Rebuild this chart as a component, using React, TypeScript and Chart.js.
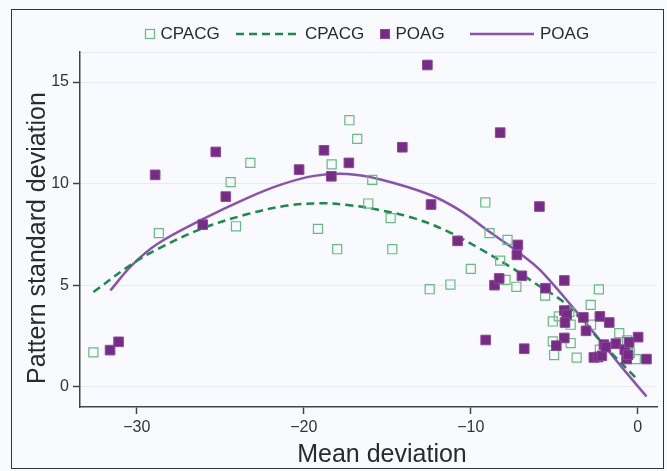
import React, { useEffect, useRef } from 'react';
import { Chart, registerables } from 'chart.js';

Chart.register(...registerables);

// CPACG observations (open squares)
const cpacgX = [-32.6, -28.68, -24.38, -24.06, -23.2, -19.15, -18.33, -18.0, -17.27, -16.8, -16.14, -15.9, -14.8, -14.7, -12.46, -11.22, -10.0, -9.13, -8.88, -8.24, -7.92, -7.8, -7.27, -5.55, -5.09, -4.73, -4.1, -4.02, -2.82, -2.33, -2.8, -1.11, -0.64, -5.09, -4.02, -5.01, -3.66, -2.27, -0.12, -0.48];
const cpacgY = [1.69, 7.56, 10.07, 7.9, 11.02, 7.77, 10.95, 6.77, 13.12, 12.2, 9.02, 10.18, 8.3, 6.77, 4.8, 5.03, 5.8, 9.07, 7.56, 6.21, 5.26, 7.23, 4.92, 4.49, 3.21, 3.46, 3.67, 3.05, 4.03, 4.79, 3.05, 2.64, 2.28, 2.23, 2.15, 1.56, 1.43, 1.82, 1.36, 1.66];

// POAG observations (filled squares)
const poagX = [-31.6, -31.09, -28.9, -26.05, -25.27, -24.67, -20.28, -18.79, -18.35, -17.3, -14.1, -12.6, -12.38, -10.79, -9.11, -8.58, -8.3, -8.24, -7.18, -7.24, -6.94, -6.8, -5.89, -5.53, -4.4, -4.4, -4.26, -4.36, -3.26, -2.27, -1.71, -3.1, -4.4, -4.88, -2.63, -2.37, -2.15, -2.03, -1.91, -1.31, -0.78, -0.52, -0.67, 0.02, 0.52, -0.58];
const poagY = [1.8, 2.21, 10.43, 7.98, 11.56, 9.36, 10.69, 11.64, 10.36, 11.02, 11.79, 15.84, 8.97, 7.18, 2.3, 5.0, 5.33, 12.51, 6.98, 6.49, 5.46, 1.87, 8.87, 4.85, 5.23, 3.75, 3.54, 3.16, 3.41, 3.46, 3.16, 2.75, 2.4, 2.02, 1.44, 1.46, 1.52, 2.07, 1.95, 2.12, 1.82, 2.18, 1.36, 2.44, 1.36, 1.57];

// Fitted curves
const cpacgFitX = [-32.6, -30.33, -28.7, -26.05, -23.36, -20.97, -18.99, -17.39, -15.6, -13.41, -11.42, -9.43, -7.44, -5.85, -4.46, -3.06, -1.67, -0.08];
const cpacgFitY = [4.66, 6.02, 6.8, 7.8, 8.5, 8.92, 9.03, 8.95, 8.72, 8.3, 7.66, 6.78, 5.8, 4.93, 4.18, 3.0, 1.74, 0.4];
const poagFitX = [-31.58, -30.33, -28.73, -26.05, -23.36, -21.37, -19.38, -17.39, -15.4, -12.42, -10.63, -8.84, -7.04, -5.8, -3.56, -2.29, -0.9, 0.52];
const poagFitY = [4.74, 5.95, 7.05, 8.25, 9.3, 9.95, 10.38, 10.47, 10.2, 9.44, 8.67, 7.6, 6.55, 5.7, 3.58, 2.31, 0.9, -0.48];

const xTicks = [-30, -20, -10, 0];
const yTicks = [0, 5, 10, 15];
const seriesLabels = ['CPACG', 'CPACG', 'POAG', 'POAG'];
const xTitle = 'Mean deviation';
const yTitle = 'Pattern standard deviation';

const X_MIN = -33.4;
const X_MAX = 1.15;
const Y_MIN = -1;
const Y_MAX = 16.48;

const FONT = '"Liberation Sans", Arial, Helvetica, sans-serif';
const BG = '#f8fafd';

const zip = (xs: number[], ys: number[]) => xs.map((x, i) => ({ x, y: ys[i] }));
const fmt = (v: number) => (v < 0 ? '\u2212' + Math.abs(v) : String(v));

export default function App() {
  const ref = useRef<HTMLCanvasElement>(null);

  useEffect(() => {
    if (!ref.current) return;

    const overlay = {
      id: 'overlayText',
      afterDraw(chart: any) {
        const ctx = chart.ctx as CanvasRenderingContext2D;
        const ds = chart.data.datasets;
        const items = [
          { i: 0, kind: 'box', x: 145.5, w: 9 },
          { i: 1, kind: 'line', x: 236, w: 63 },
          { i: 2, kind: 'box', x: 380.5, w: 9 },
          { i: 3, kind: 'line', x: 470, w: 64 },
        ];
        const cy = 34;
        ctx.save();
        ctx.font = `17px ${FONT}`;
        ctx.textBaseline = 'middle';
        ctx.textAlign = 'left';
        items.forEach((it) => {
          const d = ds[it.i];
          if (it.kind === 'box') {
            const s = 9;
            ctx.setLineDash([]);
            if (d.backgroundColor && d.backgroundColor !== 'rgba(0,0,0,0)') {
              ctx.fillStyle = d.backgroundColor;
              ctx.fillRect(it.x, cy - s / 2, s, s);
            }
            ctx.strokeStyle = d.borderColor;
            ctx.lineWidth = d.borderWidth;
            ctx.strokeRect(it.x, cy - s / 2, s, s);
          } else {
            ctx.strokeStyle = d.borderColor;
            ctx.lineWidth = d.borderWidth;
            ctx.setLineDash(d.borderDash || []);
            ctx.beginPath();
            ctx.moveTo(it.x, cy);
            ctx.lineTo(it.x + it.w, cy);
            ctx.stroke();
            ctx.setLineDash([]);
          }
          ctx.fillStyle = '#2a2a2a';
          ctx.fillText(d.label, it.x + it.w + 6, cy + 0.5);
        });

        // axis titles
        ctx.font = `25px ${FONT}`;
        ctx.fillStyle = '#2a2a2a';
        ctx.textAlign = 'center';
        ctx.fillText(xTitle, 382, 455.5);
        ctx.translate(38, 238);
        ctx.rotate(-Math.PI / 2);
        ctx.fillText(yTitle, 0, 0);
        ctx.restore();
      },
    };

    const chart = new Chart(ref.current, {
      type: 'scatter',
      data: {
        datasets: [
          {
            label: seriesLabels[0],
            data: zip(cpacgX, cpacgY),
            pointStyle: 'rect',
            pointRadius: 6.4,
            borderWidth: 1.2,
            borderColor: '#66bb82',
            backgroundColor: 'rgba(0,0,0,0)',
            order: 1,
          },
          {
            label: seriesLabels[1],
            data: zip(cpacgFitX, cpacgFitY),
            showLine: true,
            pointRadius: 0,
            borderColor: '#1b8a4c',
            backgroundColor: '#1b8a4c',
            borderWidth: 2.5,
            borderDash: [8, 5],
            tension: 0.35,
            order: 2,
          },
          {
            label: seriesLabels[2],
            data: zip(poagX, poagY),
            pointStyle: 'rect',
            pointRadius: 6.8,
            borderWidth: 1,
            borderColor: '#8a4a96',
            backgroundColor: '#772a86',
            order: 0,
          },
          {
            label: seriesLabels[3],
            data: zip(poagFitX, poagFitY),
            showLine: true,
            pointRadius: 0,
            borderColor: '#8a52b0',
            backgroundColor: '#8a52b0',
            borderWidth: 2.5,
            tension: 0.35,
            order: 3,
          },
        ] as any,
      },
      options: {
        animation: false,
        responsive: false,
        devicePixelRatio: 1,
        events: [],
        layout: { padding: { top: 52, right: 10, left: 0, bottom: 0 } },
        plugins: {
          legend: { display: false },
          tooltip: { enabled: false },
        },
        scales: {
          x: {
            type: 'linear',
            min: X_MIN,
            max: X_MAX,
            afterBuildTicks: (s: any) => {
              s.ticks = xTicks.map((v) => ({ value: v }));
            },
            afterFit: (s: any) => {
              s.height = 64;
            },
            grid: { drawOnChartArea: false, tickLength: 7, tickColor: '#444', tickWidth: 1.5 },
            border: { color: '#444', width: 1.5 },
            ticks: {
              font: { size: 16, family: FONT },
              color: '#333',
              padding: 4,
              maxRotation: 0,
              autoSkip: false,
              callback: (v: any) => fmt(Number(v)),
            },
          },
          y: {
            type: 'linear',
            min: Y_MIN,
            max: Y_MAX,
            afterBuildTicks: (s: any) => {
              s.ticks = [...yTicks, Y_MAX].map((v) => ({ value: v }));
            },
            afterFit: (s: any) => {
              s.width = 80;
            },
            grid: {
              color: '#e6ebf2',
              lineWidth: 1,
              tickLength: 7,
              tickWidth: 1.5,
              tickColor: (c: any) => (c.tick && yTicks.includes(c.tick.value) ? '#444' : 'rgba(0,0,0,0)'),
            },
            border: { color: '#444', width: 1.5 },
            ticks: {
              font: { size: 16, family: FONT },
              color: '#333',
              padding: 4,
              autoSkip: false,
              callback: (v: any) => (yTicks.includes(Number(v)) ? fmt(Number(v)) : ''),
            },
          },
        },
      } as any,
      plugins: [overlay],
    });

    return () => chart.destroy();
  }, []);

  return (
    <div style={{ position: 'absolute', left: 0, top: 0, width: 667, height: 471, background: BG }}>
      <canvas ref={ref} width={667} height={471} style={{ position: 'absolute', left: 0, top: 0, width: 667, height: 471 }} />
      <div
        style={{
          position: 'absolute',
          left: 11,
          top: 9,
          width: 653,
          height: 460,
          border: '1px solid #333',
          boxSizing: 'border-box',
          pointerEvents: 'none',
        }}
      />
    </div>
  );
}
